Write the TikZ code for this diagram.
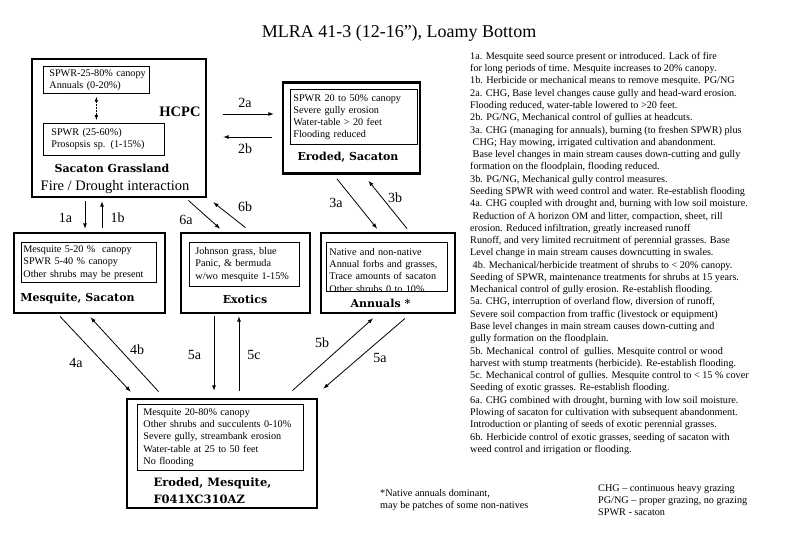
\documentclass[tikz,border=0pt]{standalone}
\usepackage{fontspec}
\setmainfont{Liberation Serif}
\newfontfamily\labelfont{DejaVu Serif}
\usetikzlibrary{calc, arrows}
\tikzset{>=latex}
\newcommand{\boxfont}{\fontsize{10.2}{12.2}\selectfont}
\newcommand{\notefont}{\fontsize{10.2}{12.28}\selectfont}
\newcommand{\boxlines}[2]{\begin{tabular}{@{\hspace{#1}}l@{}}#2\end{tabular}}

\tikzset{
  outerbox/.style={draw, line width=2.8pt, inner sep=0pt},
  innerbox/.style={draw, line width=0.8pt, anchor=north west, align=left,
    inner xsep=0pt, inner ysep=1pt, text width=#1, font=\boxfont},
  statename/.style={font=\labelfont\bfseries\fontsize{11}{17}\selectfont},
  translabel/.style={font=\fontsize{14}{16}\selectfont},
  trans/.style={->, line width=0.8pt},
  notes/.style={anchor=north west, align=left, inner sep=0pt, font=\notefont}
}

\begin{document}
\begin{tikzpicture}[x=1pt, y=-1pt]
\useasboundingbox[fill=white] (0,0) rectangle (800,536);

\node[font=\fontsize{18}{20}\selectfont] (title) at (399,33) {MLRA 41-3 (12-16”), Loamy Bottom};

% states
\node[outerbox, minimum width=174, minimum height=138] (hcpc) at (119,128) {};
\node[innerbox=106, minimum height=27] (hcpcA) at (43,66) {\boxlines{6pt}{SPWR-25-80\% canopy\\Annuals (0-20\%)}};
\node[innerbox=121, minimum height=32] (hcpcB) at (43,123) {\boxlines{8pt}{SPWR (25-60\%)\\Prosopsis sp. (1-15\%)}};
\draw[<->, line width=0.7pt, dash pattern=on 1.5pt off 1.5pt, shorten <=3, shorten >=3] (hcpcA.south) -- (hcpcA.south |- hcpcB.north);
\node[font=\bfseries\fontsize{14.5}{16}\selectfont] (hcpclab) at (180,112) {HCPC};
\node[statename] (hcpcname) at (112,168) {Sacaton Grassland};
\node[font=\fontsize{14.5}{16}\selectfont] (firelab) at (115,187) {Fire / Drought interaction};

\node[outerbox, minimum width=137, minimum height=91] (erosac) at (351.5,128) {};
\node[innerbox=127, minimum height=55] (erosacA) at (290,89) {\boxlines{3pt}{SPWR 20 to 50\% canopy\\Severe gully erosion\\Water-table > 20 feet\\Flooding reduced}};
\node[statename] (erosacname) at (348,157) {Eroded, Sacaton};

\node[outerbox, minimum width=151, minimum height=80] (mesq) at (89.5,273) {};
\node[innerbox=135, minimum height=40] (mesqA) at (21,242) {\boxlines{2pt}{Mesquite 5-20 \% ~canopy\\SPWR 5-40 \% canopy\\Other shrubs may be present}};
\node[statename] (mesqname) at (77.5,298) {Mesquite, Sacaton};

\node[outerbox, minimum width=129, minimum height=80] (exot) at (245.5,273) {};
\node[innerbox=110, minimum height=44] (exotA) at (189,242) {\boxlines{6pt}{Johnson grass, blue\\Panic, \& bermuda\\w/wo mesquite 1-15\%}};
\node[statename] (exotname) at (245,299) {Exotics};

\node[outerbox, minimum width=134, minimum height=80] (annu) at (388,273) {};
\node[innerbox=121, minimum height=49] (annuA) at (326,242) {};
\begin{scope}
\clip (annuA.north west) rectangle (annuA.south east);
\node[innerbox=121, draw=none] (annutext) at ($(annuA.north west)+(0,3.5)$) {\boxlines{3pt}{Native and non-native\\Annual forbs and grasses,\\Trace amounts of sacaton\\Other shrubs 0 to 10\%}};
\end{scope}
\node[statename] (annuname) at (380.5,303) {Annuals *};

\node[outerbox, minimum width=190, minimum height=109] (eromes) at (222,453.5) {};
\node[innerbox=166, minimum height=66] (eromesA) at (137,404) {\boxlines{6pt}{Mesquite 20-80\% canopy\\Other shrubs and succulents 0-10\%\\Severe gully, streambank erosion\\Water-table at 25 to 50 feet\\No flooding}};
\node[statename, anchor=west, align=left, font=\labelfont\bfseries\fontsize{11.5}{17}\selectfont] (eromesname) at (150,490.5) {Eroded, Mesquite,\\F041XC310AZ};

% transitions
\draw[trans, shorten <=16, shorten >=8] ($(hcpc.east)+(0,-14)$) -- ($(hcpc.east -| erosac.west)+(0,-14)$);
\draw[trans, shorten <=10, shorten >=16] ($(hcpc.east -| erosac.west)+(0,9)$) -- ($(hcpc.east)+(0,9)$);
\node[translabel] (l2a) at (245,103) {2a};
\node[translabel] (l2b) at (245,149) {2b};

\draw[trans] ($(mesq.north |- hcpc.south)+(-4.5,3)$) -- ($(mesq.north)+(-4.5,-3)$);
\draw[trans] ($(mesq.north)+(12.5,-4)$) -- ($(mesq.north |- hcpc.south)+(12.5,3)$);
\node[translabel] (l1a) at (65.5,218) {1a};
\node[translabel] (l1b) at (117.5,218) {1b};

\draw[trans] ($(hcpc.south east)+(-19,2)$) -- ($(exot.north)+(-25.5,-3)$);
\draw[trans] ($(exot.north)+(0,-4)$) -- ($(hcpc.south east)+(6,4)$);
\node[translabel] (l6a) at (186,220) {6a};
\node[translabel] (l6b) at (245,207) {6b};

\draw[trans] ($(erosac.south)+(-14.5,4)$) -- ($(annu.north)+(-11,-3)$);
\draw[trans] ($(annu.north)+(19,-3)$) -- ($(erosac.south)+(17,6)$);
\node[translabel] (l3a) at (336,203) {3a};
\node[translabel] (l3b) at (395,198) {3b};

\draw[trans] ($(mesq.south)+(-29.5,2)$) -- ($(eromes.north west)+(5,-6)$);
\draw[trans] ($(eromes.north west)+(33,-6)$) -- ($(mesq.south)+(1,3)$);
\node[translabel] (l4a) at (76,363) {4a};
\node[translabel] (l4b) at (137,350) {4b};

\draw[trans] ($(exot.south)+(-31.5,2)$) -- ($(eromes.north)+(-8,-7)$);
\draw[trans] ($(eromes.north)+(17,-7)$) -- ($(exot.south)+(-6.5,2)$);
\node[translabel] (l5a) at (194.5,355) {5a};
\node[translabel] (l5c) at (254,355) {5c};

\draw[trans] ($(eromes.north east)+(-26,-7)$) -- ($(annu.south)+(-15,4)$);
\draw[trans] ($(annu.south)+(17,4)$) -- ($(eromes.north east)+(5,-9)$);
\node[translabel] (l5b) at (322,343) {5b};
\node[translabel] (l5ar) at (380,358) {5a};

% notes
\node[notes] (trnotes) at (470,52) {1a. Mesquite seed source present or introduced. Lack of fire\\
for long periods of time. Mesquite increases to 20\% canopy.\\
1b. Herbicide or mechanical means to remove mesquite. PG/NG\\
2a. CHG, Base level changes cause gully and head-ward erosion.\\
Flooding reduced, water-table lowered to >20 feet.\\
2b. PG/NG, Mechanical control of gullies at headcuts.\\
3a. CHG (managing for annuals), burning (to freshen SPWR) plus\\
\hspace*{2.5pt}CHG; Hay mowing, irrigated cultivation and abandonment.\\
\hspace*{2.5pt}Base level changes in main stream causes down-cutting and gully\\
formation on the floodplain, flooding reduced.\\
3b. PG/NG, Mechanical gully control measures.\\
Seeding SPWR with weed control and water. Re-establish flooding\\
4a. CHG coupled with drought and, burning with low soil moisture.\\
\hspace*{2.5pt}Reduction of A horizon OM and litter, compaction, sheet, rill\\
erosion. Reduced infiltration, greatly increased runoff\\
Runoff, and very limited recruitment of perennial grasses. Base\\
Level change in main stream causes downcutting in swales.\\
\hspace*{2.5pt}4b. Mechanical/herbicide treatment of shrubs to < 20\% canopy.\\
Seeding of SPWR, maintenance treatments for shrubs at 15 years.\\
Mechanical control of gully erosion. Re-establish flooding.\\
5a. CHG, interruption of overland flow, diversion of runoff,\\
Severe soil compaction from traffic (livestock or equipment)\\
Base level changes in main stream causes down-cutting and\\
gully formation on the floodplain.\\
5b. Mechanical ~control of ~gullies. Mesquite control or wood\\
harvest with stump treatments (herbicide). Re-establish flooding.\\
5c. Mechanical control of gullies. Mesquite control to < 15 \% cover\\
Seeding of exotic grasses. Re-establish flooding.\\
6a. CHG combined with drought, burning with low soil moisture.\\
Plowing of sacaton for cultivation with subsequent abandonment.\\
Introduction or planting of seeds of exotic perennial grasses.\\
6b. Herbicide control of exotic grasses, seeding of sacaton with\\
weed control and irrigation or flooding.};

\node[notes] (footnote) at (380,489) {*Native annuals dominant,\\may be patches of some non-natives};
\node[notes] (legend) at (598,484) {CHG – continuous heavy grazing\\PG/NG – proper grazing, no grazing\\SPWR - sacaton};
\end{tikzpicture}
\end{document}
